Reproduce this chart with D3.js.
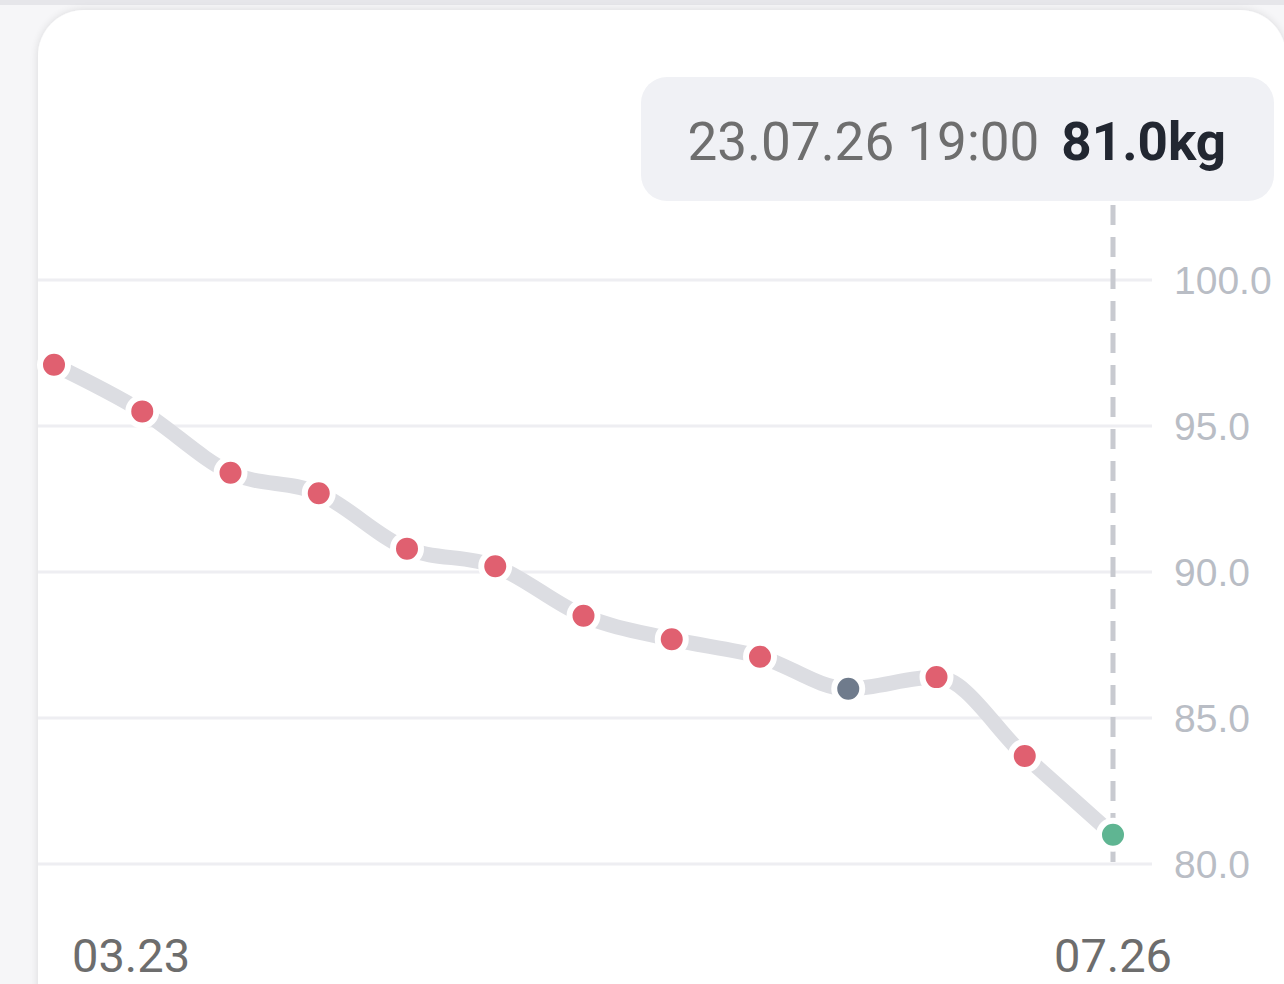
<!DOCTYPE html>
<html>
<head>
<meta charset="utf-8">
<script src="https://cdn.jsdelivr.net/npm/d3@7"></script>
<style>
  html, body { margin: 0; padding: 0; background: #f6f6f8; }
  svg { display: block; font-family: Roboto, "Noto Sans", sans-serif; }
</style>
</head>
<body>
<svg id="chart" width="1284" height="984"></svg>
<script>
// ---- data ----
const pointIndex = [1, 2, 3, 4, 5, 6, 7, 8, 9, 10, 11, 12, 13];
const weights = [97.1, 95.5, 93.4, 92.7, 90.8, 90.2, 88.5, 87.7, 87.1, 86.0, 86.4, 83.7, 81.0];
const pointKinds = ["up", "up", "up", "up", "up", "up", "up", "up", "up", "neutral", "up", "up", "selected"];
const yTicks = [80, 85, 90, 95, 100];
const xTickLabels = ["03.23", "07.26"];
const tooltipDate = "23.07.26 19:00";
const tooltipValue = "81.0kg";

const kindColor = { up: "#e06070", neutral: "#6f7b8c", selected: "#5fb592" };

const svg = d3.select("#chart");

// background strip and card
svg.append("rect").attr("x", 0).attr("y", 0).attr("width", 1284).attr("height", 5).attr("fill", "#e6e6ea");
const defs = svg.append("defs");
const f = defs.append("filter").attr("id", "shadow").attr("x", "-10%").attr("y", "-10%").attr("width", "120%").attr("height", "120%");
f.append("feGaussianBlur").attr("in", "SourceAlpha").attr("stdDeviation", 4).attr("result", "b");
f.append("feComponentTransfer").attr("in", "b").attr("result", "s")
  .append("feFuncA").attr("type", "linear").attr("slope", 0.12);
const m = f.append("feMerge");
m.append("feMergeNode").attr("in", "s");
m.append("feMergeNode").attr("in", "SourceGraphic");

svg.append("rect").attr("x", 38).attr("y", 10).attr("width", 1284 - 38 + 2).attr("height", 1100)
  .attr("rx", 46).attr("fill", "#ffffff").attr("filter", "url(#shadow)");

// scales
const x = d3.scalePoint().domain(pointIndex).range([54, 1113]);
const y = d3.scaleLinear().domain([80, 100]).range([864, 280]);

// grid
const gridG = svg.append("g");
gridG.selectAll("line").data(yTicks).join("line")
  .attr("x1", 38).attr("x2", 1152)
  .attr("y1", d => y(d)).attr("y2", d => y(d))
  .attr("stroke", "#eeeef2").attr("stroke-width", 3);

// y axis labels via d3 axis
const yAxis = d3.axisRight(y).tickValues(yTicks).tickFormat(d3.format(".1f")).tickSize(0).tickPadding(0);
const yG = svg.append("g").attr("transform", "translate(1174,0)").call(yAxis);
yG.select(".domain").remove();
yG.selectAll("text").attr("fill", "#b9bdc5").attr("font-size", 39).attr("dy", "0.35em").attr("x", 0);

// x labels
const lastIdx = pointIndex[pointIndex.length - 1];
svg.append("text").text(xTickLabels[0])
  .attr("x", x(pointIndex[0]) + 18).attr("y", 972)
  .attr("fill", "#6d6d6d").attr("font-size", 47);
svg.append("text").text(xTickLabels[1])
  .attr("x", x(lastIdx)).attr("y", 972).attr("text-anchor", "middle")
  .attr("fill", "#6d6d6d").attr("font-size", 47);

// vertical dashed indicator
svg.append("line")
  .attr("x1", x(lastIdx)).attr("x2", x(lastIdx))
  .attr("y1", 205).attr("y2", 862)
  .attr("stroke", "#c8cad0").attr("stroke-width", 5)
  .attr("stroke-dasharray", "20 12");

// line
const data = pointIndex.map((d, i) => ({ i: d, v: weights[i], k: pointKinds[i] }));
const line = d3.line().x(d => x(d.i)).y(d => y(d.v)).curve(d3.curveMonotoneX);
svg.append("path").datum(data).attr("d", line)
  .attr("fill", "none").attr("stroke", "#dcdde2").attr("stroke-width", 15)
  .attr("stroke-linecap", "butt").attr("stroke-linejoin", "round");

// dots
svg.append("g").selectAll("circle").data(data).join("circle")
  .attr("cx", d => x(d.i)).attr("cy", d => y(d.v)).attr("r", 14)
  .attr("fill", d => kindColor[d.k])
  .attr("stroke", "#ffffff").attr("stroke-width", 6);

// tooltip
svg.append("rect").attr("x", 641).attr("y", 77).attr("width", 633).attr("height", 124)
  .attr("rx", 26).attr("fill", "#f0f1f5");
const tt = svg.append("text").attr("x", 1226).attr("y", 160).attr("text-anchor", "end").attr("font-size", 53);
tt.append("tspan").text(tooltipDate).attr("fill", "#6e6e6e");
tt.append("tspan").text(tooltipValue).attr("fill", "#222731").attr("font-weight", "bold").attr("dx", 22);
</script>
</body>
</html>
